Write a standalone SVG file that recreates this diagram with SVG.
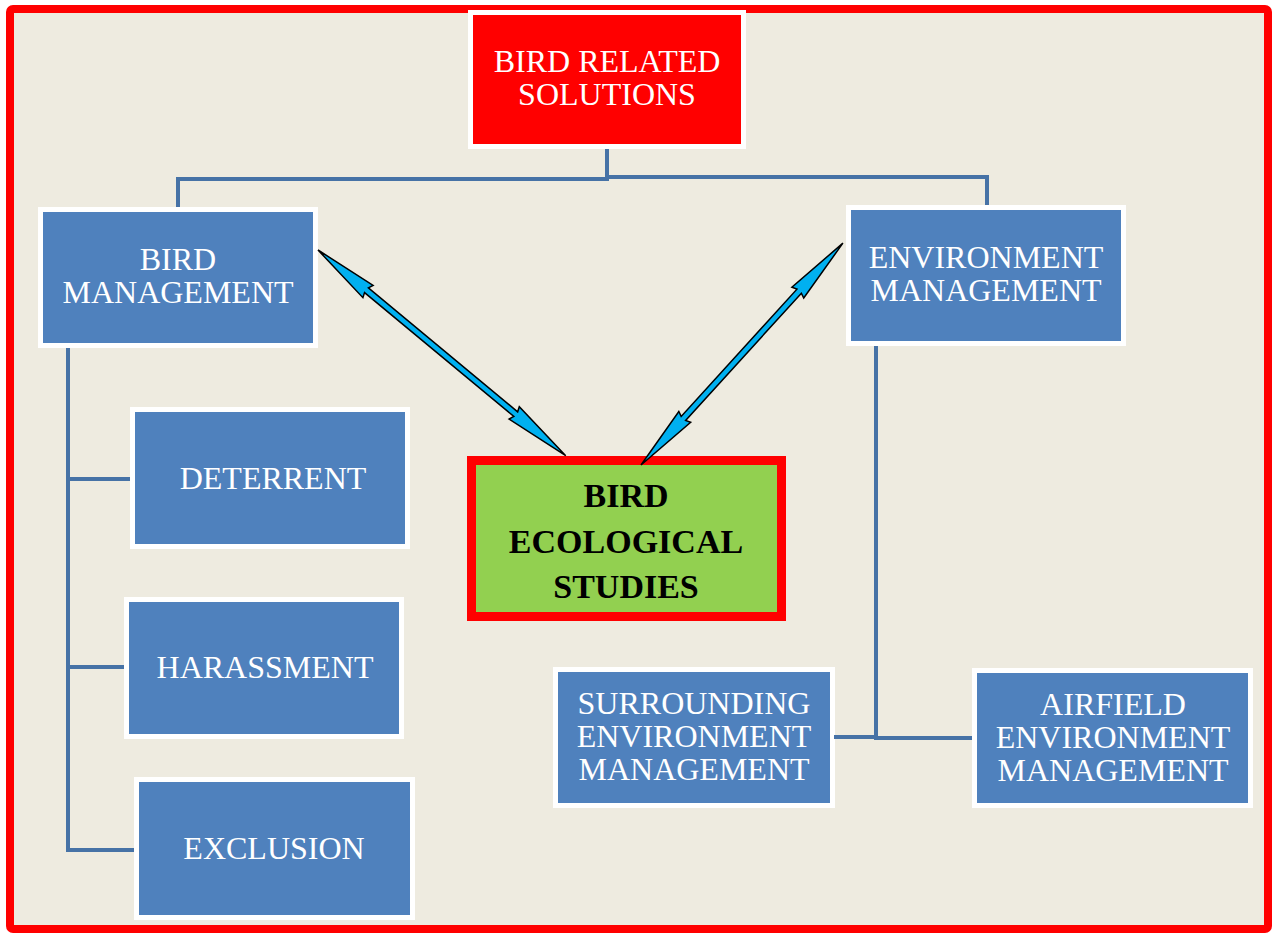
<svg xmlns="http://www.w3.org/2000/svg" width="1275" height="934" viewBox="0 0 1275 934">
<style>
.box{fill:#4f81bd;stroke:#ffffff;stroke-width:5}
.t{font-family:"Liberation Serif","Times New Roman",serif;font-size:32px;fill:#ffffff;text-anchor:middle}
.tb{font-family:"Liberation Serif","Times New Roman",serif;font-size:34px;font-weight:bold;fill:#000000;text-anchor:middle}
.conn{fill:none;stroke:#4672a6;stroke-width:4}
.arr{fill:#00b0f0;stroke:#000000;stroke-width:1.5;stroke-linejoin:miter}
</style>
<rect x="0" y="0" width="1275" height="934" fill="#ffffff"/>
<rect x="10" y="9" width="1258" height="920" rx="3" fill="#eeebe0" stroke="#ff0000" stroke-width="8"/>
<g id="bird-related-solutions">
<rect x="470.5" y="12.5" width="273" height="134" fill="#ff0000" stroke="#ffffff" stroke-width="5"/>
<text class="t" x="607" y="72">BIRD RELATED</text>
<text class="t" x="607" y="105">SOLUTIONS</text>
</g>
<g id="bird-management">
<rect class="box" x="40.5" y="209.5" width="275" height="136"/>
<text class="t" x="178" y="270">BIRD</text>
<text class="t" x="178" y="303">MANAGEMENT</text>
</g>
<g id="environment-management">
<rect class="box" x="848.5" y="207.5" width="275" height="136"/>
<text class="t" x="986" y="268">ENVIRONMENT</text>
<text class="t" x="986" y="301">MANAGEMENT</text>
</g>
<g id="deterrent">
<rect class="box" x="132.5" y="409.5" width="275" height="137"/>
<text class="t" x="273" y="489">DETERRENT</text>
</g>
<g id="harassment">
<rect class="box" x="126.5" y="599.5" width="275" height="137"/>
<text class="t" x="265" y="678">HARASSMENT</text>
</g>
<g id="exclusion">
<rect class="box" x="136.5" y="779.5" width="276" height="138"/>
<text class="t" x="274" y="859">EXCLUSION</text>
</g>
<g id="surrounding-environment-management">
<rect class="box" x="555.5" y="669.5" width="277" height="136"/>
<text class="t" x="694" y="714">SURROUNDING</text>
<text class="t" x="694" y="747">ENVIRONMENT</text>
<text class="t" x="694" y="780">MANAGEMENT</text>
</g>
<g id="airfield-environment-management">
<rect class="box" x="974.5" y="670.5" width="276" height="135"/>
<text class="t" x="1113" y="715">AIRFIELD</text>
<text class="t" x="1113" y="748">ENVIRONMENT</text>
<text class="t" x="1113" y="781">MANAGEMENT</text>
</g>
<g id="bird-ecological-studies">
<rect x="471.5" y="460.5" width="310" height="156" fill="#92d050" stroke="#ff0000" stroke-width="9"/>
<text class="tb" x="626" y="507">BIRD</text>
<text class="tb" x="626" y="553">ECOLOGICAL</text>
<text class="tb" x="626" y="598">STUDIES</text>
</g>
<g id="connectors">
<polyline class="conn" points="607,149 607,179 178,179 178,207"/>
<polyline class="conn" points="607,177 987,177 987,205"/>
<polyline class="conn" points="68,348 68,850 134,850"/>
<line class="conn" x1="68" y1="479" x2="130" y2="479"/>
<line class="conn" x1="68" y1="667" x2="124" y2="667"/>
<polyline class="conn" points="876,346 876,738 972,738"/>
<line class="conn" x1="834" y1="737" x2="876" y2="737"/>
<polygon class="arr" transform="translate(318,250) rotate(39.7)" points="0,0 65,-8 63,-3 257,-3 255,-8 322,0 255,8 257,3 63,3 65,8"/>
<polygon class="arr" transform="translate(641,465) rotate(-47.7)" points="0,0 65,-8 63,-3 235,-3 233,-8 300,0 233,8 235,3 63,3 65,8"/>
</g>
</svg>
